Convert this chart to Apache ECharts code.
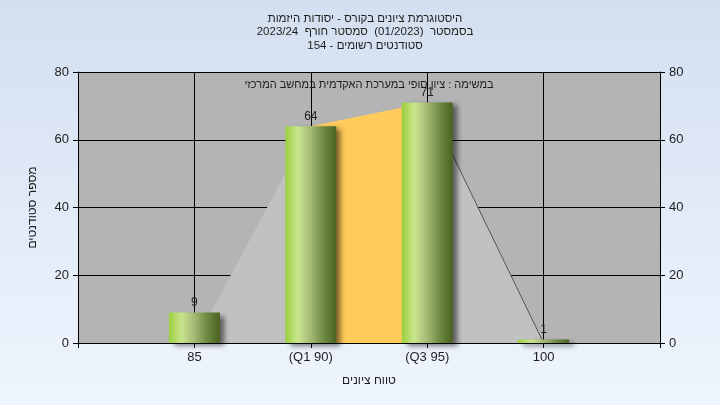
<!DOCTYPE html>
<html>
<head>
<meta charset="utf-8">
<script src="https://cdn.jsdelivr.net/npm/echarts@6/dist/echarts.min.js"></script>
<style>
html,body{margin:0;padding:0;}
#c{width:720px;height:405px;}
</style>
</head>
<body>
<div id="c"></div>
<script>
// ---- data ----
var categories = ['', '85', '(Q1 90)', '(Q3 95)', '100', ''];
var counts = ['-', 9, 64, 71, 1, '-'];
var curveValues = ['-', 0, 64, 71, 0, '-'];
var quartileBand = ['-', '-', 64, 71, '-', '-'];
var tailLine = ['-', '-', '-', 71, 0, '-'];
var yTicks = { min: 0, max: 80, interval: 20 };
var titleLines = [
  'היסטוגרמת ציונים בקורס - יסודות היזמות',
  'בסמסטר  (01/2023)  סמסטר חורף  2023/24',
  'סטודנטים רשומים - 154'
];
var subtitleText = 'במשימה : ציון סופי במערכת האקדמית במחשב המרכזי';
var yName = 'מספר סטודנטים';
var xName = 'טווח ציונים';

function rtl(s) { return '\u202B' + s + '\u202C'; }

var FONT = '"Liberation Sans", "DejaVu Sans", Arial, sans-serif';
var TXT = '#1e1e1e';

var chart = echarts.init(document.getElementById('c'));
var option = {
  animation: false,
  backgroundColor: {
    type: 'linear', x: 0, y: 0, x2: 0, y2: 1,
    colorStops: [{ offset: 0, color: '#d3dff0' }, { offset: 1, color: '#eff5fe' }]
  },
  textStyle: { fontFamily: FONT },
  title: {
    text: titleLines.map(rtl).join('\n'),
    left: 360, top: 7, textAlign: 'center',
    textStyle: { fontSize: 11.5, fontWeight: 'normal', color: TXT, lineHeight: 13.5, fontFamily: FONT }
  },
  graphic: [{
    type: 'text', x: 369, y: 85, z: 100,
    style: { text: rtl(subtitleText), textAlign: 'center', textVerticalAlign: 'middle',
      fontSize: 11, fill: TXT, fontFamily: FONT }
  }],
  grid: { left: 78, right: 60, top: 72, bottom: 62, show: true, backgroundColor: '#b4b4b4', borderWidth: 0 },
  xAxis: {
    type: 'category', data: categories, boundaryGap: false,
    name: rtl(xName), nameLocation: 'middle', nameGap: 32,
    nameTextStyle: { fontSize: 12, color: TXT, fontFamily: FONT },
    axisLine: { show: true, lineStyle: { color: '#000', width: 1 } },
    axisTick: { show: true, length: 5, lineStyle: { color: '#000' } },
    axisLabel: { color: TXT, fontSize: 13, margin: 8, fontFamily: FONT },
    splitLine: { show: true, lineStyle: { color: '#000', width: 1 } }
  },
  yAxis: [{
    type: 'value', min: yTicks.min, max: yTicks.max, interval: yTicks.interval, position: 'left',
    name: rtl(yName), nameLocation: 'middle', nameGap: 39,
    nameTextStyle: { fontSize: 12, color: TXT, fontFamily: FONT },
    axisLine: { show: true, lineStyle: { color: '#000', width: 1 } },
    axisTick: { show: true, length: 5, lineStyle: { color: '#000' } },
    axisLabel: { color: TXT, fontSize: 13, margin: 9, fontFamily: FONT },
    splitLine: { show: true, lineStyle: { color: '#000', width: 1 } }
  }, {
    type: 'value', min: yTicks.min, max: yTicks.max, interval: yTicks.interval, position: 'right',
    axisLine: { show: true, lineStyle: { color: '#000', width: 1 } },
    axisTick: { show: true, length: 5, lineStyle: { color: '#000' } },
    axisLabel: { color: TXT, fontSize: 13, margin: 9, fontFamily: FONT },
    splitLine: { show: false }
  }],
  series: [{
    type: 'line', data: curveValues, symbol: 'none', z: 1,
    lineStyle: { width: 0, opacity: 0 },
    areaStyle: { color: '#c1c1c1', opacity: 1 }
  }, {
    type: 'line', data: quartileBand, symbol: 'none', z: 2,
    lineStyle: { width: 0, opacity: 0 },
    areaStyle: { color: '#ffcb5a', opacity: 1 }
  }, {
    type: 'line', data: tailLine, symbol: 'none', z: 3,
    lineStyle: { width: 1, color: '#555' }
  }, {
    type: 'bar', data: counts, barWidth: 51, z: 5,
    itemStyle: {
      color: {
        type: 'linear', x: 0, y: 0, x2: 1, y2: 0,
        colorStops: [
          { offset: 0, color: '#9bcf3c' },
          { offset: 0.25, color: '#c9e58e' },
          { offset: 0.5, color: '#a3b974' },
          { offset: 0.75, color: '#6e8a42' },
          { offset: 1, color: '#4a6222' }
        ]
      },
      shadowColor: 'rgba(0,0,0,0.5)', shadowBlur: 5, shadowOffsetX: 5, shadowOffsetY: 3
    },
    label: { show: true, position: 'top', distance: 4, color: TXT, fontSize: 12, fontFamily: FONT }
  }]
};
chart.setOption(option);
</script>
</body>
</html>
